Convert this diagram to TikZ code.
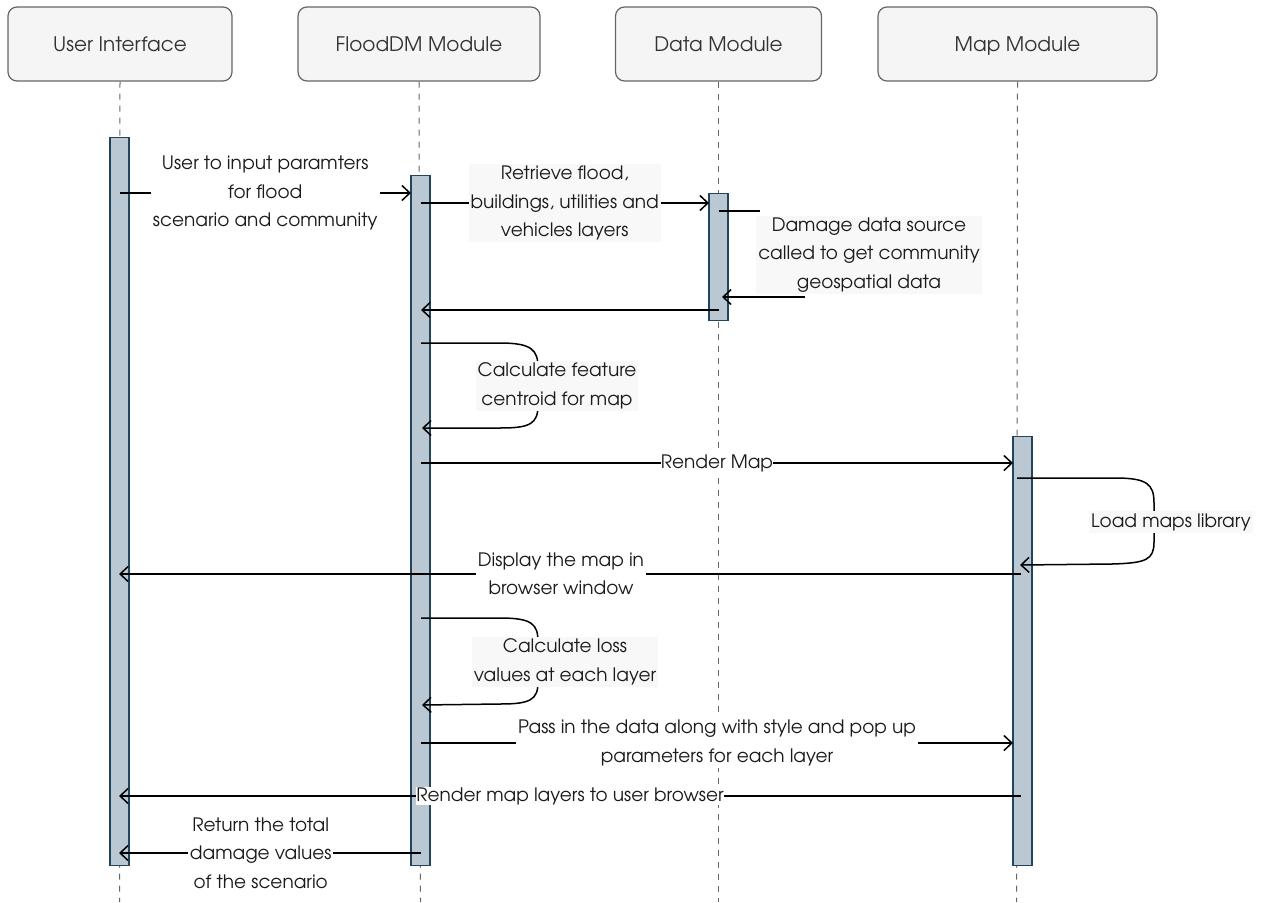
\documentclass[tikz,border=0pt]{standalone}
\usepackage{fontspec}
\setmainfont{TeX Gyre Adventor}
\usetikzlibrary{arrows.meta}
\definecolor{hdrfill}{HTML}{F5F5F5}
\definecolor{hdrline}{HTML}{666666}
\definecolor{hdrtext}{HTML}{333333}
\definecolor{barfill}{HTML}{BAC8D3}
\definecolor{barline}{HTML}{23445D}
\definecolor{lblbg}{HTML}{F8F8F8}
\definecolor{txt}{HTML}{1A1A1A}
\begin{document}
\begin{tikzpicture}[x=1pt,y=-1pt,
  hdr/.style={draw=hdrline, fill=hdrfill, rounded corners=9pt, line width=1.2pt,
    minimum height=74pt, inner sep=0pt, text=hdrtext, text height=18pt, text depth=4pt,
    font=\fontsize{20}{23}\selectfont},
  life/.style={draw=hdrline, dash pattern=on 6pt off 6pt, line width=1pt},
  bar/.style={draw=barline, fill=barfill, line width=1.3pt, minimum width=19pt,
    inner sep=0pt, anchor=north},
  msg/.style={draw=black, line width=1.5pt},
  msgto/.style={msg, -{Straight Barb[length=8pt,width=15pt,line width=1.5pt]}},
  lbl/.style={fill=white, inner sep=2pt, align=center, text=txt,
    font=\fontsize{18.5}{28.5}\selectfont},
  lblg/.style={lbl, fill=lblbg}
]
\useasboundingbox (0,0) rectangle (1263,902);

% lifeline heads
\node[hdr, minimum width=224pt] (ui)  at (120,44)    {User Interface};
\node[hdr, minimum width=242pt] (fdm) at (419,44)    {FloodDM Module};
\node[hdr, minimum width=206pt] (dm)  at (718.5,44)  {Data Module};
\node[hdr, minimum width=279pt] (mm)  at (1017.5,44) {Map Module};

% dashed lifelines
\coordinate (uiend)  at (119.5,902);
\coordinate (fdmend) at (420.5,902);
\coordinate (dmend)  at (718.5,902);
\coordinate (mmend)  at (1016.5,902);
\draw[life] (ui.south)  -- (uiend);
\draw[life] (fdm.south) -- (fdmend);
\draw[life] (dm.south)  -- (dmend);
\draw[life] (mm.south)  -- (mmend);

% activation bars
\node[bar, minimum height=728pt] (uib)  at (119.5,137) {};
\node[bar, minimum height=690pt] (fdmb) at (420.5,175) {};
\node[bar, minimum height=127pt] (dmb)  at (718.5,193) {};
\node[bar, minimum height=429pt] (mmb)  at (1022.5,436) {};

% 1: user input
\coordinate (m1a) at (119.5,193);
\coordinate (m1b) at (411,193);
\draw[msgto] (m1a) -- node[lbl] {User to input paramters\\for flood\\scenario and community} (m1b);

% 2: retrieve layers
\coordinate (m2a) at (420.5,203);
\coordinate (m2b) at (709,203);
\draw[msgto] (m2a) -- node[lblg] {Retrieve flood,\\buildings, utilities and\\vehicles layers} (m2b);

% 3: data source self call
\node[lblg] (dl) at (869,255) {Damage data source\\called to get community\\geospatial data};
\coordinate (m3a) at (718.5,211);
\coordinate (m3b) at (760,211);
\coordinate (m3c) at (805,297);
\coordinate (m3d) at (722,297);
\draw[msg] (m3a) -- (m3b);
\draw[msgto] (m3c) -- (m3d);

% 4: return to FloodDM
\coordinate (m4a) at (718.5,310);
\coordinate (m4b) at (421,310);
\draw[msgto] (m4a) -- (m4b);

% 5: centroid self call
\coordinate (m5a) at (421,343);
\coordinate (m5b) at (422,428);
\draw[msgto] (m5a) -- (500,343) .. controls (532,343) and (538,350) .. (538,368)
  -- (538,405) .. controls (538,424) and (530,428) .. (500,428) -- (m5b);
\node[lblg] (cl) at (557,386) {Calculate feature\\centroid for map};

% 6: render map
\coordinate (m6a) at (421,463);
\coordinate (m6b) at (1013,463);
\draw[msgto] (m6a) -- node[lbl, inner sep=0pt] {Render Map} (m6b);

% 7: load library self call
\coordinate (m7a) at (1017,478);
\coordinate (m7b) at (1020,565);
\draw[msgto] (m7a) -- (1115,478) .. controls (1147,478) and (1154,484) .. (1154,503)
  -- (1154,542) .. controls (1154,560) and (1146,563) .. (1112,564) -- (m7b);
\node[lblg] (ll) at (1171,522) {Load maps library};

% 8: display map
\coordinate (m8a) at (1021,574);
\coordinate (m8b) at (119,574);
\draw[msgto] (m8a) -- node[lbl, pos=0.51] {Display the map in\\browser window} (m8b);

% 9: loss self call
\coordinate (m9a) at (421,618);
\coordinate (m9b) at (422,705);
\draw[msgto] (m9a) -- (500,618) .. controls (532,618) and (538,624) .. (538,642)
  -- (538,682) .. controls (538,700) and (530,704) .. (500,704) -- (m9b);
\node[lblg] (ls) at (565,662) {Calculate loss\\values at each layer};

% 10: pass data to map
\coordinate (m10a) at (421,743);
\coordinate (m10b) at (1013,743);
\draw[msgto] (m10a) -- node[lbl] {Pass in the data along with style and pop up\\parameters for each layer} (m10b);

% 11: render layers
\coordinate (m11a) at (1021,796);
\coordinate (m11b) at (119,796);
\draw[msgto] (m11a) -- node[lbl, inner sep=0pt] {Render map layers to user browser} (m11b);

% 12: return totals
\coordinate (m12a) at (420.5,853);
\coordinate (m12b) at (119,853);
\draw[msgto] (m12a) -- node[lbl, pos=0.53] {Return the total\\damage values\\of the scenario} (m12b);
\end{tikzpicture}
\end{document}
